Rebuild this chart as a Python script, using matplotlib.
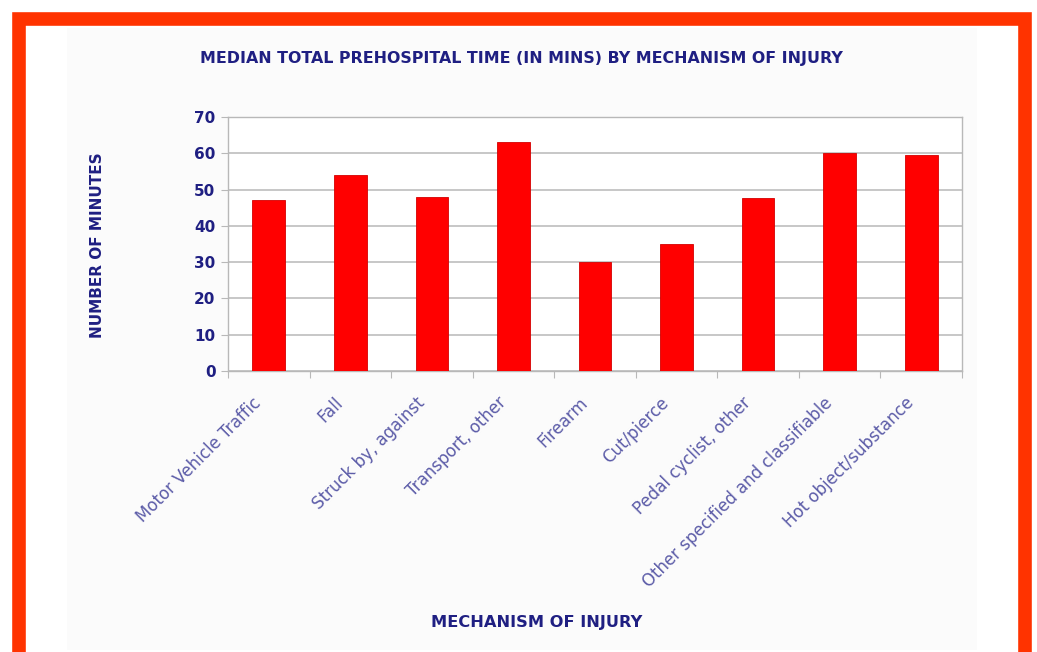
import matplotlib
matplotlib.use("Agg")
import matplotlib.pyplot as plt
import matplotlib.patches as mpatches
import matplotlib.transforms as mtransforms
from matplotlib import font_manager as fm

# Datos
mecanismos = ["Motor Vehicle Traffic", "Fall", "Struck by, against", "Transport, other",
              "Firearm", "Cut/pierce", "Pedal cyclist, other",
              "Other specified and classifiable", "Hot object/substance"]
minutos = [47, 54, 48, 63, 30, 35, 47.7, 60.2, 59.6]
yticks = [0, 10, 20, 30, 40, 50, 60, 70]

nombres = {f.name for f in fm.fontManager.ttflist}
fuente_titulo = "Liberation Sans Narrow" if "Liberation Sans Narrow" in nombres else "DejaVu Sans"
fuente_ticks = "DejaVu Sans"

azul_oscuro = "#1f1f82"
azul_claro = "#5c5ca8"

fig = plt.figure(figsize=(10.37, 6.52), dpi=100)
fig.patch.set_facecolor("white")

# marco rojo y fondo del area del grafico
fig.add_artist(mpatches.Rectangle((67 / 1037, 2 / 652), 910 / 1037, 622 / 652,
                                  transform=fig.transFigure, facecolor="#fbfbfb",
                                  edgecolor="none", zorder=-1))
fig.add_artist(mpatches.Rectangle((19 / 1037, -3 / 652), 1006 / 1037, 636.5 / 652,
                                  transform=fig.transFigure, fill=False,
                                  edgecolor="#ff3300", linewidth=9.8))

ax = fig.add_axes([228 / 1037, 1 - 371 / 652, 734 / 1037, 254 / 652])
ax.set_facecolor("white")

x = range(len(mecanismos))
ax.bar(x, minutos, width=0.4, color="#ff0000", edgecolor="#d40000", linewidth=0.6, zorder=3)

ax.set_xlim(-0.5, len(mecanismos) - 0.5)
ax.set_ylim(0, 70)
ax.set_yticks(yticks)
ax.set_yticklabels([str(v) for v in yticks], fontsize=11, fontweight="bold",
                   color=azul_oscuro, family=fuente_ticks)
ax.yaxis.grid(True, color="#bdbdbd", linewidth=1.2, zorder=0)
ax.set_axisbelow(True)

for s in ax.spines.values():
    s.set_color("#b8b8b8")
    s.set_linewidth(1)

ax.tick_params(axis="y", length=5, color="#b8b8b8", pad=4)
ax.set_xticks([i + 0.5 for i in range(-1, len(mecanismos))], minor=False)
ax.set_xticklabels([])
ax.tick_params(axis="x", length=5, color="#b8b8b8")

# etiquetas del eje x giradas
desplaz = mtransforms.ScaledTranslation(-10 / 100, -29 / 100, fig.dpi_scale_trans)
for i, nombre in enumerate(mecanismos):
    ax.text(i, 0, nombre, rotation=45, ha="right", va="center", rotation_mode="anchor",
            fontsize=12, color=azul_claro, family=fuente_ticks,
            transform=mtransforms.blended_transform_factory(ax.transData, ax.transAxes) + desplaz)

fig.text(521 / 1037, 1 - 59 / 652, "MEDIAN TOTAL PREHOSPITAL TIME (IN MINS) BY MECHANISM OF INJURY",
         ha="center", va="center", fontsize=11.4, fontweight="bold", color=azul_oscuro,
         family=fuente_titulo)
fig.text(98 / 1037, 1 - 245 / 652, "NUMBER OF MINUTES", rotation=90, ha="center", va="center",
         fontsize=11, fontweight="bold", color=azul_oscuro, family=fuente_titulo)
fig.text(537 / 1037, 1 - 623 / 652, "MECHANISM OF INJURY", ha="center", va="center",
         fontsize=11.7, fontweight="bold", color=azul_oscuro, family=fuente_titulo)

fig.savefig("out.png", dpi=100)
